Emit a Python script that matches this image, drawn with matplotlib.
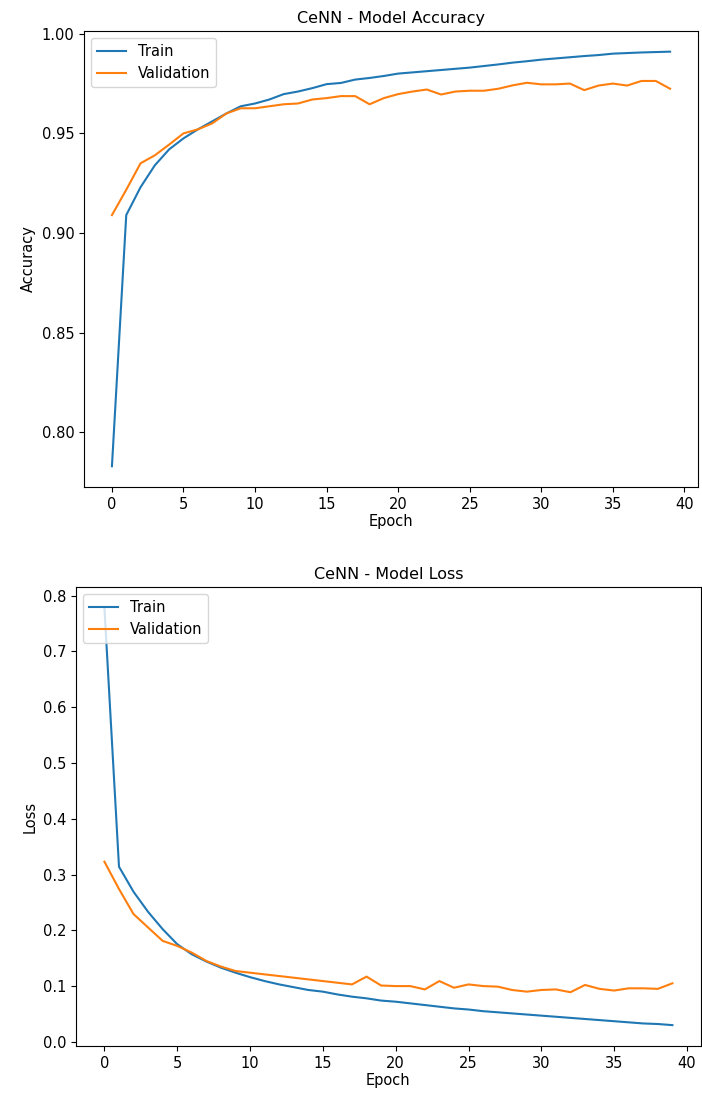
import numpy as np
import matplotlib
matplotlib.use('Agg')
import matplotlib.pyplot as plt

epochs = np.arange(40)

train_acc = [0.783, 0.909, 0.923, 0.934, 0.942, 0.9475, 0.952, 0.956, 0.960, 0.9636,
             0.965, 0.967, 0.9697, 0.971, 0.9727, 0.9747, 0.9753, 0.977, 0.9778, 0.9788,
             0.980, 0.9806, 0.9812, 0.9818, 0.9824, 0.983, 0.9838, 0.9846, 0.9855, 0.9862,
             0.987, 0.9876, 0.9882, 0.9888, 0.9893, 0.990, 0.9903, 0.9906, 0.9908, 0.991]
val_acc = [0.909, 0.9217, 0.935, 0.939, 0.9444, 0.950, 0.952, 0.955, 0.960, 0.9626,
           0.9626, 0.9636, 0.9646, 0.965, 0.967, 0.9677, 0.9687, 0.9687, 0.9646, 0.9677,
           0.9697, 0.971, 0.972, 0.9695, 0.971, 0.9714, 0.9714, 0.9724, 0.9741, 0.9754,
           0.9746, 0.9746, 0.975, 0.9717, 0.974, 0.975, 0.974, 0.9763, 0.9763, 0.9724]

train_loss = [0.778, 0.314, 0.269, 0.233, 0.202, 0.175, 0.157, 0.144, 0.133, 0.124,
              0.116, 0.109, 0.103, 0.098, 0.093, 0.090, 0.085, 0.081, 0.078, 0.074,
              0.072, 0.069, 0.066, 0.063, 0.060, 0.058, 0.055, 0.053, 0.051, 0.049,
              0.047, 0.045, 0.043, 0.041, 0.039, 0.037, 0.035, 0.033, 0.032, 0.030]
val_loss = [0.323, 0.274, 0.229, 0.205, 0.181, 0.172, 0.160, 0.145, 0.135, 0.127,
            0.124, 0.121, 0.118, 0.115, 0.112, 0.109, 0.106, 0.103, 0.117, 0.101,
            0.100, 0.100, 0.094, 0.109, 0.097, 0.103, 0.100, 0.099, 0.093, 0.090,
            0.093, 0.094, 0.089, 0.102, 0.095, 0.092, 0.096, 0.096, 0.095, 0.105]

plt.rcParams['font.size'] = 10.5

fig = plt.figure(figsize=(7.02, 10.97), dpi=100)

ax1 = fig.add_axes([0.1197, 0.5561, 0.8746, 0.4157])
ax1.plot(epochs, train_acc, label="Train")
ax1.plot(epochs, val_acc, label="Validation")
ax1.set_title("CeNN - Model Accuracy", fontsize=11.5)
ax1.set_xlabel("Epoch", labelpad=2)
ax1.set_ylabel("Accuracy")
ax1.legend(loc="upper left")

ax2 = fig.add_axes([0.1083, 0.0465, 0.890, 0.4184])
ax2.plot(epochs, train_loss, label="Train")
ax2.plot(epochs, val_loss, label="Validation")
ax2.set_title("CeNN - Model Loss", fontsize=11.5)
ax2.set_xlabel("Epoch", labelpad=2)
ax2.set_ylabel("Loss")
ax2.legend(loc="upper left")

plt.savefig("out.png", dpi=100)
plt.close()
